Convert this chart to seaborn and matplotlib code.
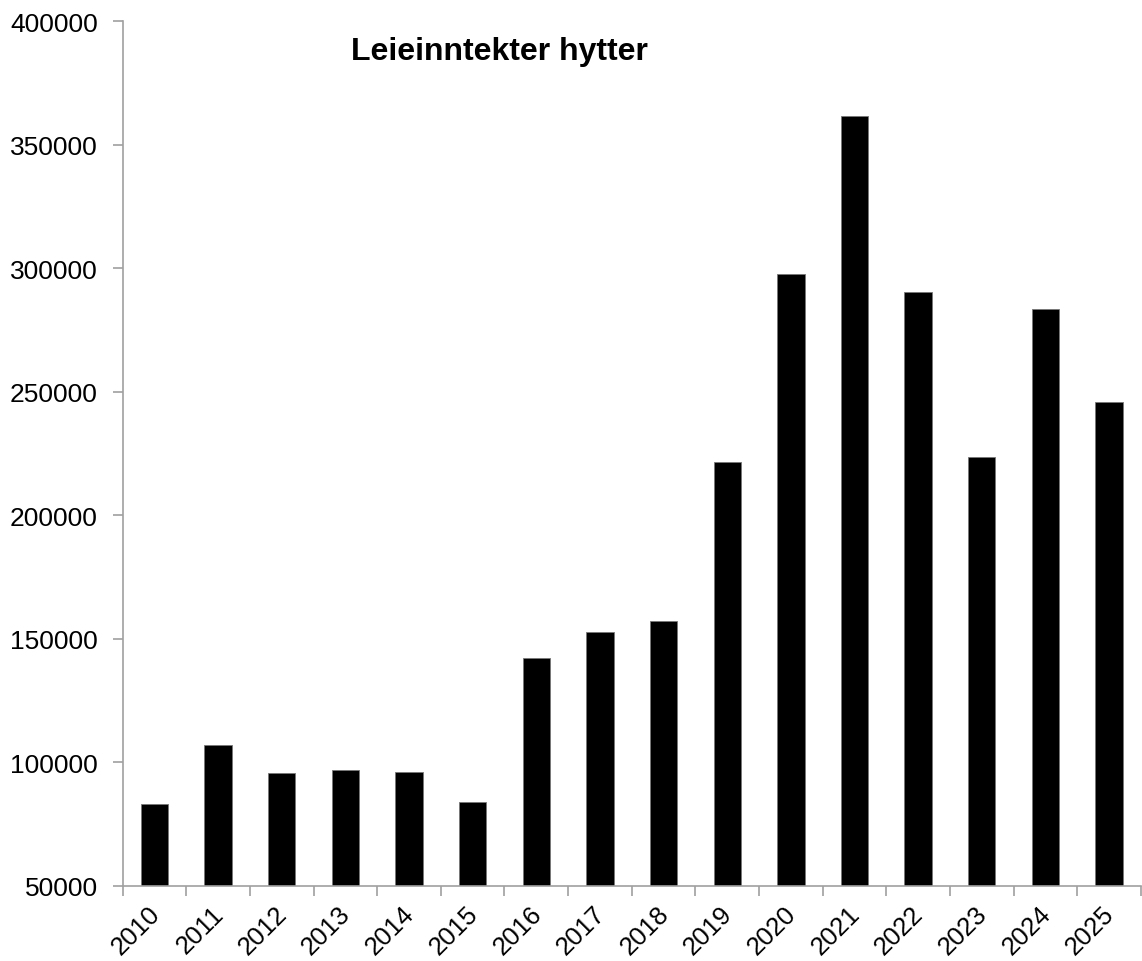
import numpy as np
import pandas as pd
import seaborn as sns
import matplotlib.pyplot as plt
import matplotlib.transforms as mtransforms
from matplotlib.ticker import FixedLocator

years = ['2010', '2011', '2012', '2013', '2014', '2015', '2016', '2017',
         '2018', '2019', '2020', '2021', '2022', '2023', '2024', '2025']
income = [83200, 106800, 95600, 97000, 96000, 83900, 142300, 152600,
          157200, 221500, 297500, 361500, 290200, 223400, 283400, 245700]
y_ticks = [50000, 100000, 150000, 200000, 250000, 300000, 350000, 400000]

sns.set_style('white')
plt.rcParams['font.family'] = ['Liberation Sans', 'DejaVu Sans']
plt.rcParams['text.color'] = 'black'
plt.rcParams['xtick.color'] = 'black'
plt.rcParams['ytick.color'] = 'black'

df = pd.DataFrame({'year': years, 'income': income})

fig = plt.figure(figsize=(11.42, 9.62), dpi=100)
ax = fig.add_axes([0.1074, 0.0783, 0.8916, 0.8988])

sns.barplot(data=df, x='year', y='income', color='black', width=0.43,
            edgecolor='#777777', linewidth=0.6, saturation=1, ax=ax)

ax.set_ylim(50000, 400000)
ax.set_xlim(-0.5, len(years) - 0.5)
ax.set_yticks(y_ticks)
ax.set_yticklabels([str(v) for v in y_ticks], fontsize=19)
ax.set_xticks(range(len(years)))
ax.set_xticklabels(years, fontsize=18.5, rotation=45, ha='right',
                   rotation_mode='anchor')
ax.xaxis.set_minor_locator(FixedLocator(np.arange(-0.5, len(years), 1)))
ax.tick_params(axis='x', which='major', length=0, pad=11, labelcolor='black')
ax.tick_params(axis='x', which='minor', length=7, color='#a0a0a0', width=1.2,
               direction='out', bottom=True)
ax.tick_params(axis='y', length=7, color='#a0a0a0', width=1.2,
               direction='out', left=True, pad=11, labelcolor='black')

# nudge rotated year labels to sit like the original
shift = mtransforms.ScaledTranslation(-7 / 100, 0, fig.dpi_scale_trans)
for lab in ax.get_xticklabels():
    lab.set_transform(lab.get_transform() + shift)

for side in ['top', 'right']:
    ax.spines[side].set_visible(False)
for side in ['left', 'bottom']:
    ax.spines[side].set_color('#a0a0a0')
    ax.spines[side].set_linewidth(1.2)

ax.set_xlabel('')
ax.set_ylabel('')
ax.text(0.2247, 0.956, 'Leieinntekter hytter', transform=ax.transAxes,
        fontsize=23, fontweight='bold', va='baseline', ha='left',
        color='black')

fig.savefig('out.png', dpi=100)
